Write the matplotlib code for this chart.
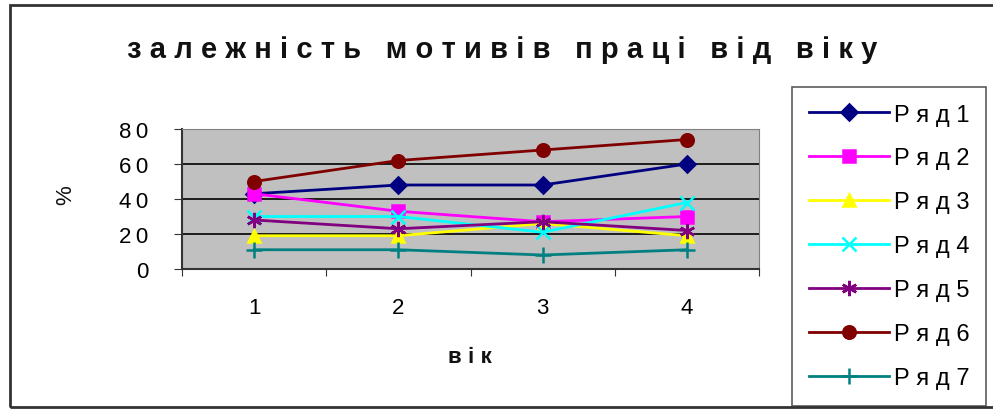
import matplotlib
matplotlib.use("Agg")
import matplotlib.pyplot as plt
from matplotlib.lines import Line2D
from matplotlib.patches import Rectangle

plt.rcParams['font.family'] = ['Liberation Sans', 'DejaVu Sans']

# data
ages = [1, 2, 3, 4]
series_names = ['Ряд 1', 'Ряд 2', 'Ряд 3', 'Ряд 4', 'Ряд 5', 'Ряд 6', 'Ряд 7']
row1 = [43, 48, 48, 60]
row2 = [43, 33, 27, 30]
row3 = [19, 19, 26, 19]
row4 = [30, 30, 21, 38]
row5 = [28, 23, 27, 22]
row6 = [50, 62, 68, 74]
row7 = [11, 11, 8, 11]
y_ticks = [0, 20, 40, 60, 80]

rows = [row1, row2, row3, row4, row5, row6, row7]
colors = ['#000080', '#FF00FF', '#FFFF00', '#00FFFF', '#800080', '#800000', '#008080']
markers = ['D', 's', '^', 'x', (6, 2, 0), 'o', '+']
msizes = [8, 9, 9, 10, 11, 9, 12]


def spaced(s, gap='\u2009'):
    # wide letter spacing, Excel style
    return gap.join(s)


W, H = 993, 410
fig = plt.figure(figsize=(W / 100, H / 100), dpi=100)
fig.patch.set_facecolor('white')

# outer chart frame (right side runs off the canvas)
fig.patches.append(Rectangle((10 / W, 1 - 408 / H), 1000 / W, 402 / H,
                             transform=fig.transFigure, fill=False,
                             edgecolor='#333333', linewidth=2))

ax = fig.add_axes([182 / W, 1 - 270 / H, 577 / W, 140 / H])
ax.set_facecolor('#C0C0C0')

for vals, c, m, ms in zip(rows, colors, markers, msizes):
    ax.plot(ages, vals, color=c, marker=m, markersize=ms, linewidth=2,
            markeredgewidth=1.8, markerfacecolor=c, markeredgecolor=c, clip_on=False)

ax.set_xlim(0.5, 4.5)
ax.set_ylim(0, 80)
ax.set_yticks(y_ticks)
ax.set_yticklabels([spaced(str(v)) for v in y_ticks])
ax.yaxis.grid(True, color='black', linewidth=1.2)
ax.set_axisbelow(True)

ax.set_xticks([0.5, 1.5, 2.5, 3.5, 4.5])
ax.set_xticklabels([])
ax.set_xticks(ages, minor=True)
ax.set_xticklabels([str(a) for a in ages], minor=True)
ax.tick_params(axis='x', which='minor', length=0, pad=20, labelsize=16)
ax.tick_params(axis='x', which='major', length=5, direction='out', color='#333333')
ax.tick_params(axis='y', length=6, direction='out', pad=18, labelsize=16, color='#333333')

for side in ['top', 'right']:
    ax.spines[side].set_color('#808080')
for side in ['left', 'bottom']:
    ax.spines[side].set_color('#333333')
    ax.spines[side].set_linewidth(1.5)

fig.text(502 / W, 1 - 50 / H, spaced('залежність мотивів праці від віку', '\u2009\u200a'),
         ha='center', va='center', fontsize=21, fontweight='bold', color='#111111')
fig.text(470 / W, 1 - 358 / H, spaced('вік', '\u2009\u200a'), ha='center', va='center',
         fontsize=16, fontweight='bold', color='#111111')
fig.text(66 / W, 1 - 195 / H, '%', ha='center', va='center', rotation=90,
         fontsize=16, color='#111111')

handles = [Line2D([0], [0], color=c, marker=m, markersize=ms, linewidth=2,
                  markeredgewidth=1.8, markerfacecolor=c, markeredgecolor=c)
           for c, m, ms in zip(colors, markers, msizes)]
leg = fig.legend(handles, [spaced(n.replace(' ', ''), '\u2009\u200a') for n in series_names],
                 loc='upper left', bbox_to_anchor=(792 / W, 1 - 88 / H),
                 borderaxespad=0, fontsize=17, handlelength=3.4, handletextpad=0.2,
                 labelspacing=0.93, borderpad=0.7, fancybox=False, frameon=True)
leg.get_frame().set_edgecolor('#333333')
leg.get_frame().set_linewidth(1.2)

fig.savefig('out.png', dpi=100)
